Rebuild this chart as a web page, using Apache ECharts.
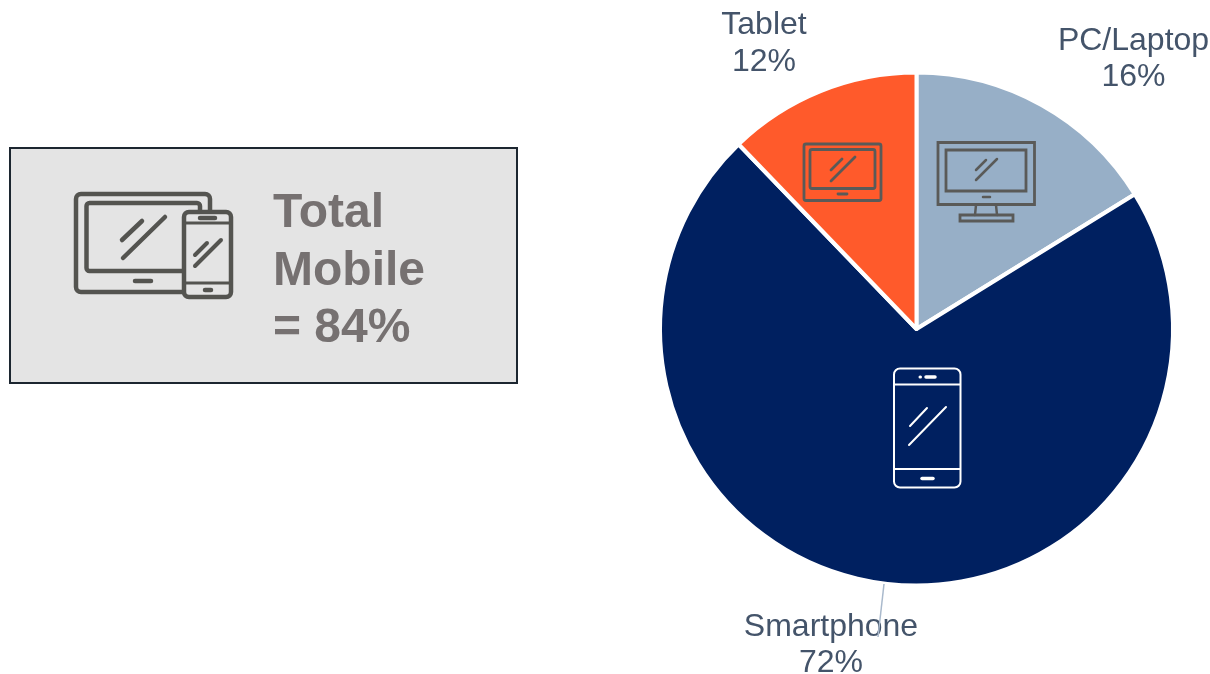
<!DOCTYPE html>
<html><head><meta charset="utf-8">
<style>html,body{margin:0;padding:0;background:#fff}#c{width:1210px;height:674px}</style>
<script src="https://cdn.jsdelivr.net/npm/echarts@6/dist/echarts.min.js"></script>
</head><body><div id="c"></div>
<script>
const categories = ['PC/Laptop', 'Smartphone', 'Tablet'];
const shares = [16.2, 71.6, 12.2];
const sliceColors = ['#97afc7', '#002060', '#ff5a2b'];
const labelCenters = [[1133.5, 59], [831, 645], [764, 43.5]];
const calloutLines = ['Total', 'Mobile', '= 84%'];

const chart = echarts.init(document.getElementById('c'), null, {renderer: 'canvas'});

function rr(x, y, w, h, r, stroke, lw, fill) {
  return {type: 'rect', shape: {x, y, width: w, height: h, r},
    style: {fill: fill || 'none', stroke, lineWidth: lw}, silent: true};
}
function ln(x1, y1, x2, y2, stroke, lw) {
  return {type: 'line', shape: {x1, y1, x2, y2},
    style: {stroke, lineWidth: lw, lineCap: 'round'}, silent: true};
}

const dk = '#545450', ic = '#5a5a58';
const graphics = [
  rr(10, 148, 507, 235, 0, '#1c2630', 2, '#e4e4e4'),
  // tablet + phone in the callout
  rr(76, 194, 134, 98, 5, dk, 4.5),
  rr(86.5, 203, 113.5, 68, 3, dk, 4.5),
  ln(122, 240, 142, 221, dk, 4.5),
  ln(123, 258, 165, 217, dk, 4.5),
  ln(135, 281, 151, 281, dk, 4.5),
  rr(184, 212, 47, 85, 5, dk, 4.5, '#e4e4e4'),
  ln(185, 223, 230, 223, dk, 3),
  ln(185, 283, 230, 283, dk, 3),
  ln(200, 218, 215, 218, dk, 4.5),
  ln(205, 290, 211, 290, dk, 4.5),
  ln(195, 255, 207, 243, dk, 4),
  ln(195, 266, 221, 240, dk, 4),
  // tablet icon on the orange slice
  rr(804, 144, 77, 56.5, 2, ic, 2.8),
  rr(810, 149.5, 65, 39, 2, ic, 2.8),
  ln(831, 170, 842, 159, ic, 2.8),
  ln(831, 181, 855, 157, ic, 2.8),
  ln(838, 194, 847, 194, ic, 2.8),
  // desktop icon on the blue slice
  rr(938, 142.5, 96.5, 62, 0, ic, 2.8),
  rr(946, 150, 80, 41, 0, ic, 2.8),
  ln(976, 170, 986, 160, ic, 2.5),
  ln(976, 180, 997, 159, ic, 2.5),
  ln(983, 197, 990, 197, ic, 2.5),
  ln(976, 205, 975, 215, ic, 2.5),
  ln(996, 205, 997, 215, ic, 2.5),
  rr(960, 215, 53, 6, 0, ic, 2.8),
  // phone icon on the navy slice
  rr(894, 368.5, 66.5, 119, 6, '#fff', 2),
  ln(894, 384.5, 960, 384.5, '#fff', 2),
  ln(894, 469, 960, 469, '#fff', 2),
  ln(926, 377, 935, 377, '#fff', 3.5),
  ln(920, 377, 920.5, 377, '#fff', 3),
  ln(922, 478.5, 933, 478.5, '#fff', 3.5),
  ln(910, 426, 927, 408, '#fff', 2),
  ln(909, 445, 946, 407, '#fff', 2),
  // Smartphone leader line
  {type: 'line', shape: {x1: 884, y1: 584, x2: 878, y2: 637},
    style: {stroke: '#a9b9cc', lineWidth: 1.5}, silent: true, z: 5}
];
calloutLines.forEach((t, i) => graphics.push({
  type: 'text', x: 273, y: 214 + i * 57.5,
  style: {text: t, fill: '#767171', font: 'bold 48px "Liberation Sans"', align: 'left', verticalAlign: 'middle'},
  silent: true
}));

chart.setOption({
  animation: false,
  backgroundColor: '#ffffff',
  graphic: {elements: graphics.map(g => Object.assign({z: 10}, g))},
  series: [{
    type: 'pie',
    center: [916.5, 329],
    radius: [0, 256.5],
    startAngle: 90,
    clockwise: true,
    silent: true,
    itemStyle: {borderColor: '#ffffff', borderWidth: 4},
    label: {
      show: true, position: 'outside', overflow: 'none', width: 300,
      formatter: p => p.name + '\n' + Math.round(p.value) + '%',
      color: '#44546a', fontFamily: 'Liberation Sans', fontSize: 32, lineHeight: 36.5, align: 'center'
    },
    labelLine: {show: false},
    labelLayout: p => ({x: labelCenters[p.dataIndex][0], y: labelCenters[p.dataIndex][1], align: 'center', verticalAlign: 'middle'}),
    data: categories.map((c, i) => ({name: c, value: shares[i], itemStyle: {color: sliceColors[i]}}))
  }]
});
</script></body></html>
